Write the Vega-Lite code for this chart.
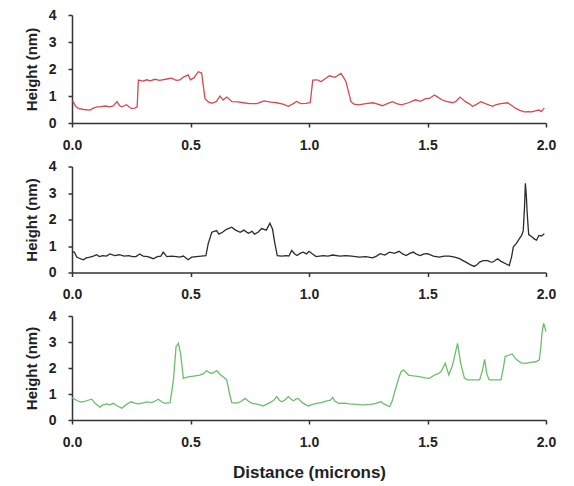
{
  "$schema": "https://vega.github.io/schema/vega-lite/v6.json",
  "background": "white",
  "padding": {"left": 24, "top": 8, "right": 5, "bottom": 5},
  "bounds": "flush",
  "spacing": 43.5,
  "config": {
    "view": {"stroke": null},
    "axis": {
      "grid": false,
      "domainColor": "#333333",
      "domainWidth": 1.5,
      "tickColor": "#333333",
      "tickWidth": 1.5,
      "tickSize": 4,
      "labelFont": "Liberation Sans",
      "labelFontSize": 14,
      "labelFontWeight": "bold",
      "labelColor": "#222222",
      "titleFont": "Liberation Sans",
      "titleFontWeight": "bold",
      "titleColor": "#222222"
    }
  },
  "datasets": {
    "red": [
      {"d":0.0,"h":0.8},{"d":0.005,"h":0.79},{"d":0.015,"h":0.62},{"d":0.027,"h":0.54},{"d":0.05,"h":0.5},{"d":0.076,"h":0.48},{"d":0.09,"h":0.55},{"d":0.105,"h":0.6},{"d":0.118,"h":0.6},{"d":0.14,"h":0.63},{"d":0.16,"h":0.6},{"d":0.174,"h":0.63},{"d":0.19,"h":0.79},{"d":0.2,"h":0.65},{"d":0.21,"h":0.6},{"d":0.23,"h":0.68},{"d":0.25,"h":0.54},{"d":0.265,"h":0.55},{"d":0.275,"h":0.6},{"d":0.28,"h":1.59},{"d":0.3,"h":1.55},{"d":0.315,"h":1.6},{"d":0.33,"h":1.56},{"d":0.35,"h":1.62},{"d":0.37,"h":1.58},{"d":0.4,"h":1.63},{"d":0.42,"h":1.66},{"d":0.44,"h":1.58},{"d":0.456,"h":1.6},{"d":0.47,"h":1.7},{"d":0.49,"h":1.78},{"d":0.5,"h":1.6},{"d":0.515,"h":1.68},{"d":0.533,"h":1.9},{"d":0.547,"h":1.85},{"d":0.561,"h":0.91},{"d":0.575,"h":0.78},{"d":0.59,"h":0.73},{"d":0.61,"h":0.8},{"d":0.624,"h":1.0},{"d":0.638,"h":0.85},{"d":0.653,"h":0.96},{"d":0.675,"h":0.79},{"d":0.7,"h":0.78},{"d":0.723,"h":0.75},{"d":0.75,"h":0.72},{"d":0.78,"h":0.72},{"d":0.81,"h":0.82},{"d":0.84,"h":0.77},{"d":0.864,"h":0.75},{"d":0.89,"h":0.7},{"d":0.913,"h":0.62},{"d":0.93,"h":0.7},{"d":0.948,"h":0.8},{"d":0.965,"h":0.72},{"d":0.987,"h":0.73},{"d":1.005,"h":0.75},{"d":1.016,"h":1.59},{"d":1.035,"h":1.6},{"d":1.05,"h":1.53},{"d":1.07,"h":1.65},{"d":1.086,"h":1.75},{"d":1.11,"h":1.69},{"d":1.135,"h":1.84},{"d":1.145,"h":1.7},{"d":1.156,"h":1.53},{"d":1.177,"h":0.79},{"d":1.19,"h":0.7},{"d":1.21,"h":0.67},{"d":1.24,"h":0.72},{"d":1.27,"h":0.75},{"d":1.29,"h":0.7},{"d":1.31,"h":0.64},{"d":1.33,"h":0.72},{"d":1.353,"h":0.79},{"d":1.37,"h":0.72},{"d":1.39,"h":0.67},{"d":1.42,"h":0.75},{"d":1.45,"h":0.86},{"d":1.47,"h":0.8},{"d":1.49,"h":0.89},{"d":1.51,"h":0.92},{"d":1.529,"h":1.04},{"d":1.545,"h":0.95},{"d":1.56,"h":0.86},{"d":1.58,"h":0.8},{"d":1.606,"h":0.75},{"d":1.62,"h":0.8},{"d":1.637,"h":0.96},{"d":1.66,"h":0.79},{"d":1.675,"h":0.72},{"d":1.69,"h":0.62},{"d":1.705,"h":0.68},{"d":1.725,"h":0.79},{"d":1.75,"h":0.7},{"d":1.775,"h":0.62},{"d":1.79,"h":0.68},{"d":1.81,"h":0.72},{"d":1.838,"h":0.75},{"d":1.855,"h":0.65},{"d":1.873,"h":0.54},{"d":1.89,"h":0.47},{"d":1.908,"h":0.41},{"d":1.925,"h":0.42},{"d":1.94,"h":0.41},{"d":1.955,"h":0.45},{"d":1.97,"h":0.48},{"d":1.98,"h":0.42},{"d":1.993,"h":0.55}
    ],
    "black": [
      {"d":0.0,"h":0.78},{"d":0.01,"h":0.77},{"d":0.02,"h":0.58},{"d":0.035,"h":0.52},{"d":0.048,"h":0.48},{"d":0.06,"h":0.55},{"d":0.076,"h":0.58},{"d":0.09,"h":0.62},{"d":0.104,"h":0.67},{"d":0.115,"h":0.6},{"d":0.13,"h":0.64},{"d":0.145,"h":0.62},{"d":0.16,"h":0.7},{"d":0.18,"h":0.64},{"d":0.2,"h":0.67},{"d":0.22,"h":0.62},{"d":0.24,"h":0.64},{"d":0.255,"h":0.6},{"d":0.27,"h":0.6},{"d":0.285,"h":0.7},{"d":0.3,"h":0.62},{"d":0.32,"h":0.6},{"d":0.343,"h":0.52},{"d":0.36,"h":0.6},{"d":0.375,"h":0.62},{"d":0.385,"h":0.77},{"d":0.4,"h":0.6},{"d":0.42,"h":0.62},{"d":0.44,"h":0.6},{"d":0.455,"h":0.58},{"d":0.47,"h":0.62},{"d":0.49,"h":0.48},{"d":0.505,"h":0.58},{"d":0.525,"h":0.6},{"d":0.545,"h":0.62},{"d":0.565,"h":0.64},{"d":0.575,"h":1.1},{"d":0.59,"h":1.52},{"d":0.61,"h":1.58},{"d":0.62,"h":1.45},{"d":0.635,"h":1.52},{"d":0.65,"h":1.62},{"d":0.674,"h":1.71},{"d":0.69,"h":1.6},{"d":0.71,"h":1.52},{"d":0.725,"h":1.6},{"d":0.744,"h":1.48},{"d":0.76,"h":1.55},{"d":0.77,"h":1.45},{"d":0.785,"h":1.52},{"d":0.8,"h":1.66},{"d":0.82,"h":1.6},{"d":0.835,"h":1.86},{"d":0.846,"h":1.64},{"d":0.856,"h":1.1},{"d":0.866,"h":0.64},{"d":0.885,"h":0.62},{"d":0.905,"h":0.64},{"d":0.915,"h":0.62},{"d":0.927,"h":0.83},{"d":0.94,"h":0.7},{"d":0.95,"h":0.64},{"d":0.962,"h":0.72},{"d":0.975,"h":0.77},{"d":0.99,"h":0.7},{"d":1.0,"h":0.8},{"d":1.015,"h":0.7},{"d":1.03,"h":0.6},{"d":1.06,"h":0.64},{"d":1.08,"h":0.62},{"d":1.1,"h":0.66},{"d":1.13,"h":0.62},{"d":1.155,"h":0.64},{"d":1.18,"h":0.62},{"d":1.212,"h":0.58},{"d":1.24,"h":0.6},{"d":1.268,"h":0.55},{"d":1.285,"h":0.62},{"d":1.3,"h":0.71},{"d":1.32,"h":0.66},{"d":1.34,"h":0.77},{"d":1.36,"h":0.72},{"d":1.38,"h":0.8},{"d":1.395,"h":0.7},{"d":1.41,"h":0.64},{"d":1.425,"h":0.72},{"d":1.44,"h":0.77},{"d":1.455,"h":0.68},{"d":1.47,"h":0.64},{"d":1.485,"h":0.7},{"d":1.5,"h":0.71},{"d":1.525,"h":0.62},{"d":1.55,"h":0.58},{"d":1.57,"h":0.62},{"d":1.592,"h":0.62},{"d":1.615,"h":0.58},{"d":1.635,"h":0.52},{"d":1.65,"h":0.45},{"d":1.662,"h":0.39},{"d":1.68,"h":0.3},{"d":1.697,"h":0.23},{"d":1.71,"h":0.3},{"d":1.72,"h":0.39},{"d":1.735,"h":0.45},{"d":1.754,"h":0.45},{"d":1.765,"h":0.4},{"d":1.775,"h":0.39},{"d":1.785,"h":0.45},{"d":1.796,"h":0.52},{"d":1.81,"h":0.42},{"d":1.817,"h":0.39},{"d":1.83,"h":0.33},{"d":1.845,"h":0.26},{"d":1.855,"h":0.6},{"d":1.862,"h":0.96},{"d":1.875,"h":1.1},{"d":1.887,"h":1.27},{"d":1.897,"h":1.4},{"d":1.904,"h":1.58},{"d":1.909,"h":2.4},{"d":1.913,"h":3.37},{"d":1.917,"h":2.9},{"d":1.92,"h":2.34},{"d":1.924,"h":1.8},{"d":1.927,"h":1.43},{"d":1.94,"h":1.35},{"d":1.95,"h":1.27},{"d":1.96,"h":1.22},{"d":1.97,"h":1.4},{"d":1.98,"h":1.38},{"d":1.993,"h":1.46}
    ],
    "green": [
      {"d":0.0,"h":0.85},{"d":0.005,"h":0.83},{"d":0.02,"h":0.75},{"d":0.035,"h":0.7},{"d":0.048,"h":0.7},{"d":0.065,"h":0.75},{"d":0.083,"h":0.8},{"d":0.1,"h":0.62},{"d":0.118,"h":0.49},{"d":0.13,"h":0.58},{"d":0.146,"h":0.62},{"d":0.16,"h":0.58},{"d":0.174,"h":0.64},{"d":0.19,"h":0.55},{"d":0.21,"h":0.45},{"d":0.23,"h":0.6},{"d":0.25,"h":0.7},{"d":0.265,"h":0.65},{"d":0.28,"h":0.62},{"d":0.3,"h":0.66},{"d":0.315,"h":0.7},{"d":0.336,"h":0.67},{"d":0.35,"h":0.72},{"d":0.364,"h":0.8},{"d":0.378,"h":0.7},{"d":0.392,"h":0.64},{"d":0.405,"h":0.66},{"d":0.414,"h":0.67},{"d":0.428,"h":1.54},{"d":0.439,"h":2.82},{"d":0.449,"h":2.95},{"d":0.458,"h":2.56},{"d":0.47,"h":1.6},{"d":0.485,"h":1.65},{"d":0.498,"h":1.67},{"d":0.52,"h":1.7},{"d":0.54,"h":1.73},{"d":0.555,"h":1.78},{"d":0.568,"h":1.9},{"d":0.58,"h":1.82},{"d":0.59,"h":1.79},{"d":0.611,"h":1.9},{"d":0.625,"h":1.75},{"d":0.636,"h":1.67},{"d":0.653,"h":1.54},{"d":0.665,"h":1.0},{"d":0.674,"h":0.67},{"d":0.69,"h":0.65},{"d":0.703,"h":0.67},{"d":0.715,"h":0.72},{"d":0.73,"h":0.83},{"d":0.745,"h":0.72},{"d":0.76,"h":0.64},{"d":0.785,"h":0.6},{"d":0.807,"h":0.54},{"d":0.82,"h":0.6},{"d":0.835,"h":0.67},{"d":0.85,"h":0.75},{"d":0.864,"h":0.9},{"d":0.875,"h":0.76},{"d":0.885,"h":0.7},{"d":0.9,"h":0.78},{"d":0.913,"h":0.9},{"d":0.925,"h":0.8},{"d":0.934,"h":0.74},{"d":0.945,"h":0.8},{"d":0.955,"h":0.83},{"d":0.965,"h":0.72},{"d":0.976,"h":0.64},{"d":0.997,"h":0.54},{"d":1.015,"h":0.6},{"d":1.034,"h":0.64},{"d":1.055,"h":0.68},{"d":1.076,"h":0.74},{"d":1.09,"h":0.76},{"d":1.1,"h":0.87},{"d":1.11,"h":0.72},{"d":1.125,"h":0.64},{"d":1.15,"h":0.65},{"d":1.17,"h":0.62},{"d":1.2,"h":0.6},{"d":1.226,"h":0.58},{"d":1.26,"h":0.6},{"d":1.283,"h":0.64},{"d":1.304,"h":0.71},{"d":1.315,"h":0.62},{"d":1.325,"h":0.58},{"d":1.34,"h":0.51},{"d":1.35,"h":0.7},{"d":1.36,"h":1.03},{"d":1.375,"h":1.5},{"d":1.388,"h":1.86},{"d":1.4,"h":1.92},{"d":1.42,"h":1.73},{"d":1.44,"h":1.7},{"d":1.466,"h":1.67},{"d":1.49,"h":1.62},{"d":1.508,"h":1.6},{"d":1.53,"h":1.73},{"d":1.545,"h":1.78},{"d":1.557,"h":1.86},{"d":1.575,"h":2.18},{"d":1.59,"h":1.73},{"d":1.606,"h":2.12},{"d":1.618,"h":2.6},{"d":1.627,"h":2.95},{"d":1.64,"h":2.18},{"d":1.656,"h":1.6},{"d":1.67,"h":1.54},{"d":1.7,"h":1.54},{"d":1.72,"h":1.54},{"d":1.732,"h":1.92},{"d":1.741,"h":2.33},{"d":1.75,"h":1.79},{"d":1.76,"h":1.54},{"d":1.79,"h":1.54},{"d":1.81,"h":1.54},{"d":1.82,"h":2.0},{"d":1.828,"h":2.44},{"d":1.845,"h":2.5},{"d":1.857,"h":2.54},{"d":1.868,"h":2.4},{"d":1.878,"h":2.31},{"d":1.895,"h":2.2},{"d":1.916,"h":2.18},{"d":1.935,"h":2.22},{"d":1.958,"h":2.24},{"d":1.972,"h":2.31},{"d":1.978,"h":2.8},{"d":1.983,"h":3.33},{"d":1.99,"h":3.72},{"d":2.0,"h":3.4}
    ]
  },
  "vconcat": [
    {
      "width": 474, "height": 108,
      "data": {"name": "red"},
      "mark": {"type": "line", "color": "#d9474f", "strokeWidth": 1.3},
      "encoding": {
        "x": {"field": "d", "type": "quantitative", "scale": {"domain": [0, 2], "nice": false},
              "axis": {"values": [0, 0.5, 1, 1.5, 2], "format": ".1f", "title": null, "labelPadding": 11, "labelFlush": false, "labelOverlap": false, "labelBound": false}},
        "y": {"field": "h", "type": "quantitative", "scale": {"domain": [0, 4], "nice": false},
              "axis": {"values": [0, 1, 2, 3, 4], "title": "Height (nm)", "titleFontSize": 15, "labelPadding": 12, "titlePadding": 9}}
      }
    },
    {
      "width": 474, "height": 106,
      "data": {"name": "black"},
      "mark": {"type": "line", "color": "#2b2b2b", "strokeWidth": 1.3},
      "encoding": {
        "x": {"field": "d", "type": "quantitative", "scale": {"domain": [0, 2], "nice": false},
              "axis": {"values": [0, 0.5, 1, 1.5, 2], "format": ".1f", "title": null, "labelPadding": 11, "labelFlush": false, "labelOverlap": false, "labelBound": false}},
        "y": {"field": "h", "type": "quantitative", "scale": {"domain": [0, 4], "nice": false},
              "axis": {"values": [0, 1, 2, 3, 4], "title": "Height (nm)", "titleFontSize": 15, "labelPadding": 12, "titlePadding": 9}}
      }
    },
    {
      "width": 474, "height": 104,
      "data": {"name": "green"},
      "mark": {"type": "line", "color": "#6abf6a", "strokeWidth": 1.3},
      "encoding": {
        "x": {"field": "d", "type": "quantitative", "scale": {"domain": [0, 2], "nice": false},
              "axis": {"values": [0, 0.5, 1, 1.5, 2], "format": ".1f", "title": "Distance (microns)", "titleFontSize": 17, "titlePadding": 15, "labelPadding": 11, "labelFlush": false, "labelOverlap": false, "labelBound": false}},
        "y": {"field": "h", "type": "quantitative", "scale": {"domain": [0, 4], "nice": false},
              "axis": {"values": [0, 1, 2, 3, 4], "title": "Height (nm)", "titleFontSize": 15, "labelPadding": 12, "titlePadding": 9}}
      }
    }
  ]
}
